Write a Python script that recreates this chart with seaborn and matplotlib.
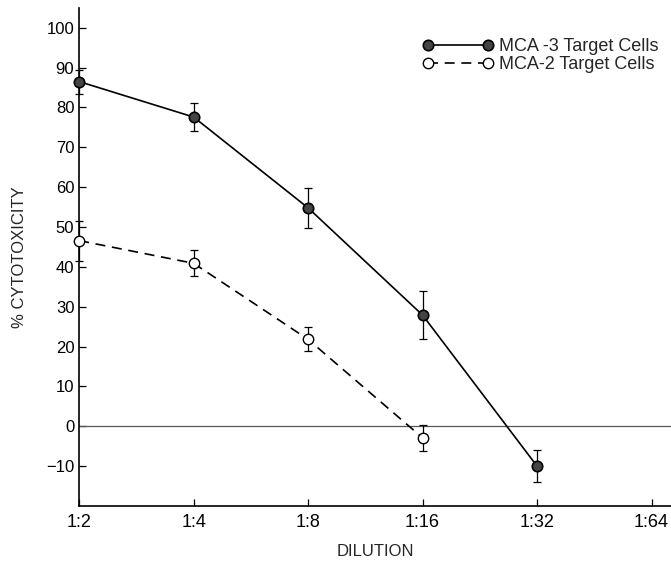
import pandas as pd
import numpy as np
import seaborn as sns
import matplotlib.pyplot as plt

dilutions = [2, 4, 8, 16, 32]
dilution_ticks = [2, 4, 8, 16, 32, 64]
dilution_labels = ["1:2", "1:4", "1:8", "1:16", "1:32", "1:64"]

mca3 = [86.5, 77.6, 54.8, 27.9, -10.0]
mca3_err = [3.0, 3.5, 5.0, 6.0, 4.0]
mca2 = [46.6, 40.9, 21.8, -2.9]
mca2_err = [5.0, 3.3, 3.0, 3.2]

sns.set_theme(style="ticks")
plt.rcParams["font.family"] = ["Liberation Sans", "DejaVu Sans"]

df3 = pd.DataFrame({"dilution": dilutions, "value": mca3})
df2 = pd.DataFrame({"dilution": dilutions[:len(mca2)], "value": mca2})

fig, ax = plt.subplots(figsize=(6.71, 5.61), dpi=100)
fig.subplots_adjust(left=0.118, right=1.0, top=0.986, bottom=0.098)

ax.axhline(0, color="#555555", lw=0.9, zorder=1)

for xs, ys, es in [(dilutions, mca3, mca3_err), (dilutions[:len(mca2)], mca2, mca2_err)]:
    eb = ax.errorbar(xs, ys, yerr=es, fmt="none", ecolor="black",
                     elinewidth=0.9, capsize=3, capthick=0.9, zorder=2)
    for art in eb.lines[1] + eb.lines[2]:
        art.set_clip_on(False)

sns.lineplot(data=df3, x="dilution", y="value", ax=ax, color="black", lw=1.2,
             marker="o", markersize=7.5, markerfacecolor="#444444",
             markeredgecolor="black", markeredgewidth=1.2,
             label="MCA -3 Target Cells", zorder=3, clip_on=False)
sns.lineplot(data=df2, x="dilution", y="value", ax=ax, color="black", lw=1.2,
             linestyle=(0, (6, 4)), marker="o", markersize=7.5,
             markerfacecolor="white", markeredgecolor="black",
             markeredgewidth=1.0, label="MCA-2 Target Cells", zorder=3,
             clip_on=False)

ax.set_xscale("log", base=2)
ax.set_xlim(2, 72)
ax.set_xticks(dilution_ticks)
ax.set_xticklabels(dilution_labels)
ax.minorticks_off()
ax.set_ylim(-20, 105)
ax.set_yticks(np.arange(-10, 101, 10))
ax.set_yticklabels(["\u221210" if t < 0 else str(t) for t in range(-10, 101, 10)])

ax.tick_params(direction="in", length=5, width=0.9, labelsize=12, colors="black")
ax.tick_params(axis="x", labelsize=13, pad=6)
for side in ["top", "right"]:
    ax.spines[side].set_visible(False)
for side in ["left", "bottom"]:
    ax.spines[side].set_linewidth(1.2)
    ax.spines[side].set_color("black")

ax.set_xlabel("DILUTION", fontsize=12, labelpad=9)
ax.set_ylabel("% CYTOTOXICITY", fontsize=12, labelpad=14)

leg = ax.legend(loc="upper right", bbox_to_anchor=(1.0, 0.965), frameon=False,
                fontsize=13, numpoints=2, handlelength=3.9, handletextpad=0.3,
                labelspacing=0.08, borderaxespad=0.3)

fig.savefig("out.png", dpi=100)
